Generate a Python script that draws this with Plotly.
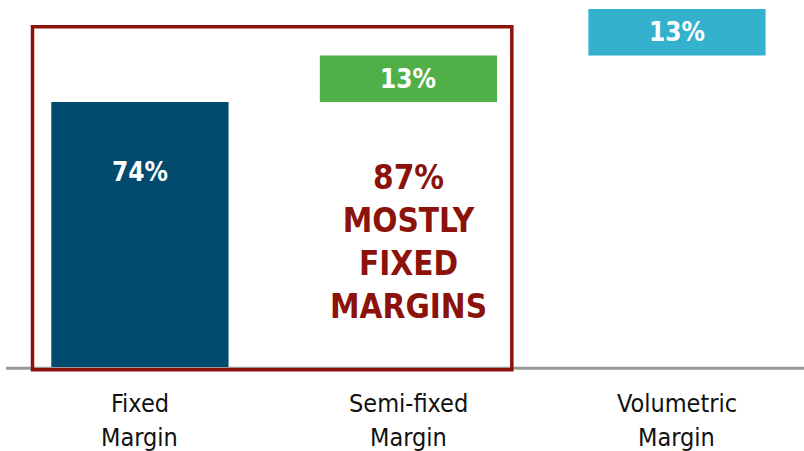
import plotly.graph_objects as go

categories = ["Fixed<br>Margin", "Semi-fixed<br>Margin", "Volumetric<br>Margin"]
values = [74, 13, 13]
bases = [0, 74, 87]
labels = ["74%", "13%", "13%"]
colors = ["#034B6E", "#50B047", "#33B1CD"]
callout = "87%<br>MOSTLY<br>FIXED<br>MARGINS"

FONT = "Liberation Sans Narrow, Arial Narrow, DejaVu Sans Condensed, sans-serif"
x = list(range(len(categories)))

fig = go.Figure()
fig.add_trace(go.Bar(
    x=x, y=values, base=bases, width=0.66,
    marker=dict(color=colors, line=dict(width=0)),
    hoverinfo="skip",
))

# value labels
for i, (v, b, t) in enumerate(zip(values, bases, labels)):
    if i == 0:
        ypos = b + v - 19.5
    else:
        ypos = b + v / 2
    fig.add_annotation(x=i, y=ypos, text=f"<b>{t}</b>", showarrow=False,
                       font=dict(family=FONT, size=26, color="white"),
                       xanchor="center", yanchor="middle")

# category labels (one annotation per line for exact line pitch)
for i, c in enumerate(categories):
    for j, line in enumerate(c.split("<br>")):
        fig.add_annotation(x=i, y=-5.6 - j * 9.4, text=line, showarrow=False,
                           font=dict(family=FONT, size=25, color="#111111"),
                           xanchor="center", yanchor="top")

# callout text
fig.add_annotation(x=1, y=35.0, text=f"<b>{callout}</b>", showarrow=False,
                   font=dict(family=FONT, size=33, color="#8B130B"),
                   xanchor="center", yanchor="middle")

# baseline
fig.add_shape(type="line", xref="paper", x0=0.0075, x1=1, y0=-0.35, y1=-0.35,
              line=dict(color="#999999", width=3), layer="below")
# red frame
fig.add_shape(type="rect", x0=-0.4, x1=1.385, y0=-0.8, y1=95,
              line=dict(color="#8B130B", width=3.5), fillcolor="rgba(0,0,0,0)")

fig.update_layout(
    width=804, height=451,
    margin=dict(l=0, r=0, t=0, b=0),
    paper_bgcolor="white", plot_bgcolor="white",
    showlegend=False,
    xaxis=dict(range=[-0.521, 2.473], visible=False, fixedrange=True),
    yaxis=dict(range=[-23.46, 102.5], visible=False, fixedrange=True),
)

fig.write_html("out.html", config={"displayModeBar": False},
               post_script="document.body.style.margin='0px';document.body.style.overflow='hidden';")
